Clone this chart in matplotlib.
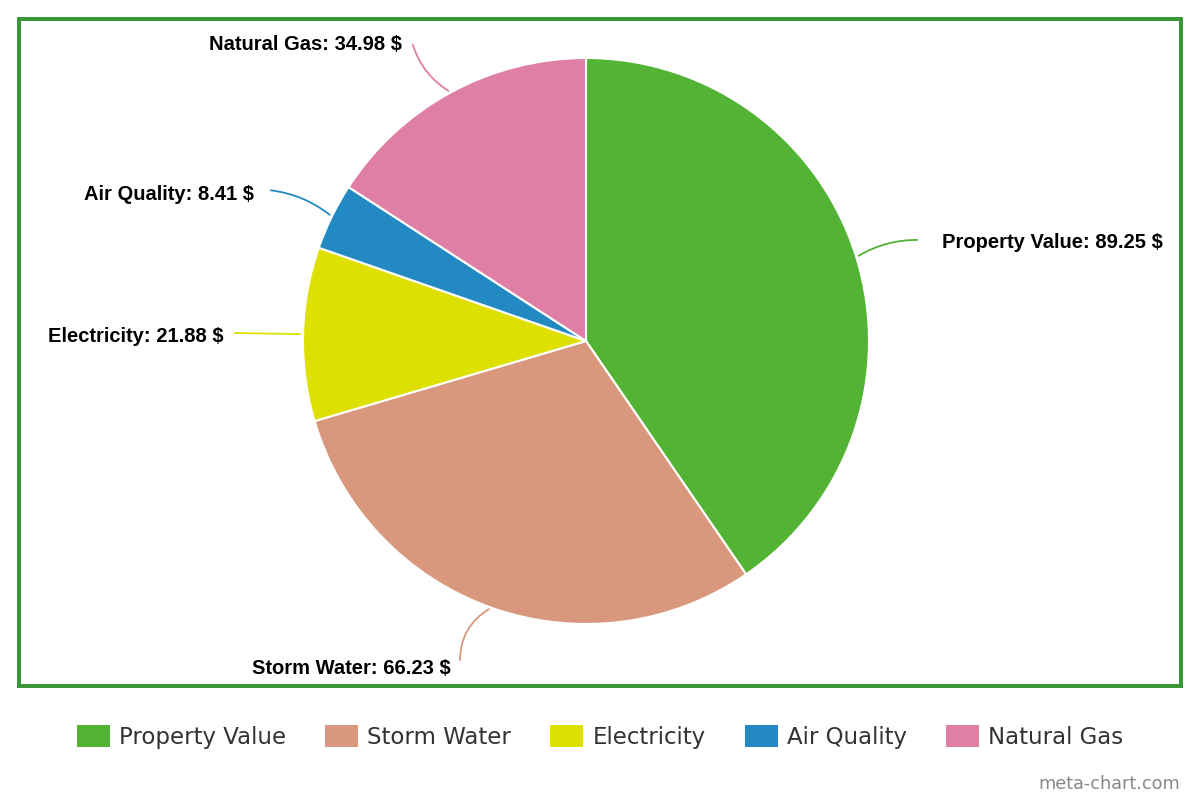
import matplotlib.pyplot as plt
from matplotlib.patches import Patch, Rectangle
import numpy as np

# data
labels = ['Property Value', 'Storm Water', 'Electricity', 'Air Quality', 'Natural Gas']
values = [89.25, 66.23, 21.88, 8.41, 34.98]
colors = ['#52b335', '#d9987d', '#dde000', '#2389c3', '#e07fa5']

# label layout (pixel coords, y from top): text anchor, line end, alignment
text_pos = [(942, 243), (451, 668), (224, 337), (254, 195), (402, 44)]
line_end = [(920, 240), (460, 663), (232, 333), (268, 190), (412, 42)]
text_ha = ['left', 'right', 'right', 'right', 'right']
line_rad = [0.15, -0.3, 0.0, -0.15, 0.2]

CX, CY, R = 586, 341, 283

fig = plt.figure(figsize=(12, 8), dpi=100)
ax = fig.add_axes([0, 0, 1, 1])

wedges, _ = ax.pie(values, colors=colors, center=(CX, CY), radius=R,
                   startangle=-90, counterclock=True,
                   wedgeprops=dict(edgecolor='white', linewidth=1.5))
ax.set_xlim(0, 1200)
ax.set_ylim(800, 0)
ax.set_aspect('equal')
ax.axis('off')

# labels with leader lines from wedge middle
for w, lab, val, col, tp, le, ha, rad in zip(wedges, labels, values, colors,
                                             text_pos, line_end, text_ha, line_rad):
    mid = np.deg2rad((w.theta1 + w.theta2) / 2)
    ax_pt = (CX + R * np.cos(mid), CY + R * np.sin(mid))
    ax.annotate('', xy=ax_pt, xytext=le,
                arrowprops=dict(arrowstyle='-', color=col, lw=1.3,
                                connectionstyle=f'arc3,rad={rad}'))
    ax.text(tp[0], tp[1], f'{lab}: {val:.2f} $', ha=ha, va='center',
            fontsize=14.5, fontweight='bold', family='Liberation Sans', color='black')

# green frame
fig.patches.append(Rectangle((19 / 1200, 1 - 686 / 800), 1162 / 1200, 667 / 800,
                             transform=fig.transFigure, fill=False,
                             edgecolor='#3a963a', linewidth=2.9))

handles = [Patch(facecolor=c, edgecolor='none') for c in colors]
leg = fig.legend(handles, labels, loc='center', bbox_to_anchor=(0.5, 1 - 737 / 800),
                 ncol=5, frameon=False, fontsize=16.5, handlelength=1.44,
                 handleheight=1.05, handletextpad=0.4, columnspacing=1.7)
for t in leg.get_texts():
    t.set_color('#333333')

fig.text(1180 / 1200, 1 - 784 / 800, 'meta-chart.com', ha='right', va='center',
         fontsize=12.7, color='#888888')

plt.savefig('out.png', dpi=100)
plt.close()
